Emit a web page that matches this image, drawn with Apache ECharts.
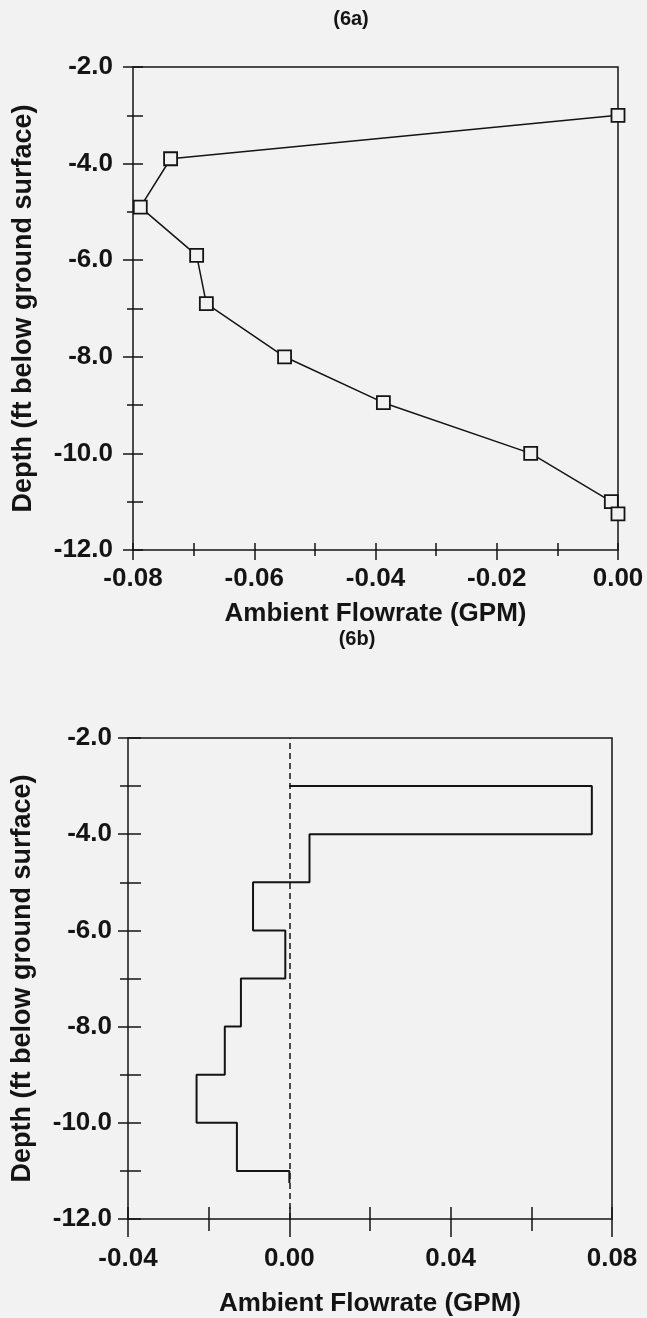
<!DOCTYPE html>
<html>
<head>
<meta charset="utf-8">
<script src="https://cdn.jsdelivr.net/npm/echarts@6/dist/echarts.min.js"></script>
<style>
html,body{margin:0;padding:0;background:#f2f2f2;}
#c{width:647px;height:1318px;}
</style>
</head>
<body>
<div id="c"></div>
<script>
// ---- Data (6a): ambient flowrate vs depth ----
var aFlow  = [0.000, -0.0738, -0.0788, -0.0695, -0.0679, -0.055, -0.0387, -0.0144, -0.0011, 0.000];
var aDepth = [-3.0, -3.9, -4.9, -5.9, -6.9, -8.0, -8.95, -10.0, -11.0, -11.25];

// ---- Data (6b): interval flow (step profile) ----
var bStart     = -3.0;
var bDepthTop  = [-3, -4, -5, -6, -7, -8, -9, -10, -11];
var bDepthBot  = [-4, -5, -6, -7, -8, -9, -10, -11, -11.25];
var bFlow      = [0.075, 0.005, -0.009, -0.001, -0.012, -0.016, -0.023, -0.013, 0.0];

// axis ranges / tick spacing
var yTicks  = {min: -12, max: -2, interval: 2};
var xTicksA = {min: -0.08, max: 0.0, interval: 0.02};
var xTicksB = {min: -0.04, max: 0.08, interval: 0.04};

var aPts = aFlow.map(function (f, i) { return [f, aDepth[i]]; });
var bPts = [[0, bStart]];
for (var i = 0; i < bFlow.length; i++) {
  bPts.push([bFlow[i], bDepthTop[i]]);
  bPts.push([bFlow[i], bDepthBot[i]]);
}

var FONT = '"Liberation Sans", Arial, Helvetica, sans-serif';
var INK = '#141414';
var BG = '#f2f2f2';

function fx(v) { if (Math.abs(v) < 1e-9) v = 0; return v.toFixed(2); }
function fy(v) { if (Math.abs(v) < 1e-9) v = 0; return v.toFixed(1); }

// The frame line is drawn by the grid border; the axis itself is shifted
// inward (negative offset) so its outward ticks cross the frame line.
function xAxis(grid, t, inset, major, minor, labelMargin, nameGap) {
  return {
    type: 'value', gridIndex: grid, position: 'bottom', offset: -inset,
    min: t.min, max: t.max, interval: t.interval,
    name: 'Ambient Flowrate (GPM)', nameLocation: 'middle', nameGap: nameGap,
    nameTextStyle: {fontFamily: FONT, fontWeight: 'bold', fontSize: 26, color: INK},
    axisLine: {show: false, onZero: false},
    axisTick: {show: true, inside: false, length: major, lineStyle: {color: INK, width: 1.5}},
    minorTick: {show: true, splitNumber: 2, length: minor, lineStyle: {color: INK, width: 1.5}},
    axisLabel: {margin: labelMargin, formatter: fx, fontFamily: FONT, fontWeight: 'bold', fontSize: 26, color: INK, showMinLabel: true, showMaxLabel: true},
    splitLine: {show: false}
  };
}
function yAxis(grid, inset, major, minor, labelMargin, nameGap) {
  return {
    type: 'value', gridIndex: grid, position: 'left', offset: -inset,
    min: yTicks.min, max: yTicks.max, interval: yTicks.interval,
    name: 'Depth (ft below ground surface)', nameLocation: 'middle', nameGap: nameGap, nameRotate: 90,
    nameTextStyle: {fontFamily: FONT, fontWeight: 'bold', fontSize: 27, color: INK},
    axisLine: {show: false, onZero: false},
    axisTick: {show: true, inside: false, length: major, lineStyle: {color: INK, width: 1.5}},
    minorTick: {show: true, splitNumber: 2, length: minor, lineStyle: {color: INK, width: 1.5}},
    axisLabel: {margin: labelMargin, formatter: fy, fontFamily: FONT, fontWeight: 'bold', fontSize: 26, color: INK},
    splitLine: {show: false}
  };
}

var chart = echarts.init(document.getElementById('c'), null, {renderer: 'canvas'});
chart.setOption({
  backgroundColor: BG,
  animation: false,
  title: [
    {text: '(6a)', left: 346, top: 4, textAlign: 'center',
     textStyle: {fontFamily: FONT, fontWeight: 'bold', fontSize: 20, color: INK}},
    {text: '(6b)', left: 352, top: 624, textAlign: 'center',
     textStyle: {fontFamily: FONT, fontWeight: 'bold', fontSize: 20, color: INK}}
  ],
  grid: [
    {left: 133, top: 67, width: 485, height: 483, show: true, borderColor: INK, borderWidth: 1.5, backgroundColor: 'transparent'},
    {left: 128, top: 738, width: 484, height: 482, show: true, borderColor: INK, borderWidth: 1.5, backgroundColor: 'transparent'}
  ],
  xAxis: [
    xAxis(0, xTicksA, 7, 17, 13, 23, 58),
    xAxis(1, xTicksB, 12, 30, 24, 39, 84)
  ],
  yAxis: [
    yAxis(0, 10, 20, 16, 30, 106),
    yAxis(1, 13, 23, 21, 29, 105)
  ],
  series: [
    {
      type: 'line', xAxisIndex: 0, yAxisIndex: 0, data: aPts,
      symbol: 'rect', symbolSize: 13, showAllSymbol: true,
      lineStyle: {color: INK, width: 1.5},
      itemStyle: {color: BG, borderColor: INK, borderWidth: 1.8},
      z: 3
    },
    {
      type: 'line', xAxisIndex: 1, yAxisIndex: 1, data: bPts,
      symbol: 'none',
      lineStyle: {color: INK, width: 2},
      markLine: {
        silent: true, symbol: ['none', 'none'],
        label: {show: false},
        lineStyle: {color: INK, width: 1.5, type: [6, 4]},
        data: [{xAxis: 0}]
      },
      z: 3
    }
  ]
});
</script>
</body>
</html>
